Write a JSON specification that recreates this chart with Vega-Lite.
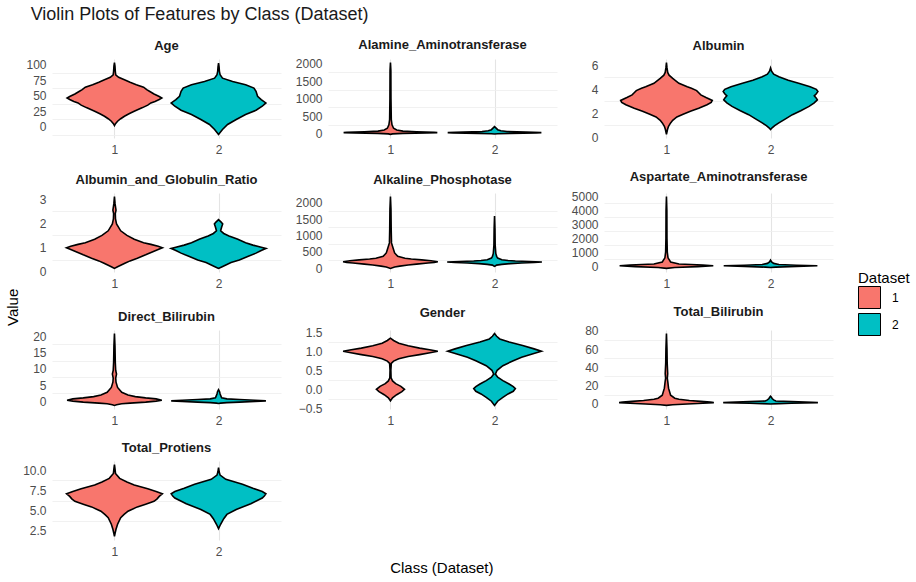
{
"$schema": "https://vega.github.io/schema/vega-lite/v6.json",
"title": {"text": "Violin Plots of Features by Class (Dataset)", "anchor": "start", "fontSize": 18, "fontWeight": "normal", "color": "#1A1A1A", "dx": 25, "offset": 15, "frame": "bounds"},
"datasets": {"violins": [
{"feature":"Age","Dataset":1,"value":103.7,"density":0},{"feature":"Age","Dataset":1,"value":98,"density":0.005},{"feature":"Age","Dataset":1,"value":90,"density":0.008},{"feature":"Age","Dataset":1,"value":84,"density":0.012},{"feature":"Age","Dataset":1,"value":80,"density":0.04},{"feature":"Age","Dataset":1,"value":76,"density":0.096},{"feature":"Age","Dataset":1,"value":72,"density":0.15},{"feature":"Age","Dataset":1,"value":68,"density":0.21},{"feature":"Age","Dataset":1,"value":64,"density":0.28},{"feature":"Age","Dataset":1,"value":60,"density":0.31},{"feature":"Age","Dataset":1,"value":57,"density":0.34},{"feature":"Age","Dataset":1,"value":53,"density":0.38},{"feature":"Age","Dataset":1,"value":49,"density":0.43},{"feature":"Age","Dataset":1,"value":46.5,"density":0.455},{"feature":"Age","Dataset":1,"value":44,"density":0.43},{"feature":"Age","Dataset":1,"value":41,"density":0.39},{"feature":"Age","Dataset":1,"value":38.5,"density":0.35},{"feature":"Age","Dataset":1,"value":35,"density":0.32},{"feature":"Age","Dataset":1,"value":31,"density":0.27},{"feature":"Age","Dataset":1,"value":25,"density":0.19},{"feature":"Age","Dataset":1,"value":21,"density":0.14},{"feature":"Age","Dataset":1,"value":17,"density":0.096},{"feature":"Age","Dataset":1,"value":13,"density":0.06},{"feature":"Age","Dataset":1,"value":9,"density":0.03},{"feature":"Age","Dataset":1,"value":5,"density":0.01},{"feature":"Age","Dataset":1,"value":2,"density":0},
{"feature":"Age","Dataset":2,"value":102.7,"density":0},{"feature":"Age","Dataset":2,"value":97,"density":0.005},{"feature":"Age","Dataset":2,"value":90,"density":0.008},{"feature":"Age","Dataset":2,"value":84,"density":0.015},{"feature":"Age","Dataset":2,"value":78.6,"density":0.038},{"feature":"Age","Dataset":2,"value":73.3,"density":0.135},{"feature":"Age","Dataset":2,"value":67.9,"density":0.26},{"feature":"Age","Dataset":2,"value":62.6,"density":0.34},{"feature":"Age","Dataset":2,"value":57.2,"density":0.36},{"feature":"Age","Dataset":2,"value":49.2,"density":0.375},{"feature":"Age","Dataset":2,"value":43.9,"density":0.41},{"feature":"Age","Dataset":2,"value":38.5,"density":0.455},{"feature":"Age","Dataset":2,"value":33.2,"density":0.42},{"feature":"Age","Dataset":2,"value":26.7,"density":0.36},{"feature":"Age","Dataset":2,"value":19.8,"density":0.26},{"feature":"Age","Dataset":2,"value":11.8,"density":0.17},{"feature":"Age","Dataset":2,"value":3.7,"density":0.087},{"feature":"Age","Dataset":2,"value":-4.3,"density":0.038},{"feature":"Age","Dataset":2,"value":-9.6,"density":0.013},{"feature":"Age","Dataset":2,"value":-12.3,"density":0},
{"feature":"Alamine_Aminotransferase","Dataset":1,"value":2030,"density":0},{"feature":"Alamine_Aminotransferase","Dataset":1,"value":1800,"density":0.004},{"feature":"Alamine_Aminotransferase","Dataset":1,"value":1000,"density":0.005},{"feature":"Alamine_Aminotransferase","Dataset":1,"value":400,"density":0.008},{"feature":"Alamine_Aminotransferase","Dataset":1,"value":250,"density":0.015},{"feature":"Alamine_Aminotransferase","Dataset":1,"value":150,"density":0.03},{"feature":"Alamine_Aminotransferase","Dataset":1,"value":100,"density":0.06},{"feature":"Alamine_Aminotransferase","Dataset":1,"value":70,"density":0.12},{"feature":"Alamine_Aminotransferase","Dataset":1,"value":50,"density":0.25},{"feature":"Alamine_Aminotransferase","Dataset":1,"value":35,"density":0.42},{"feature":"Alamine_Aminotransferase","Dataset":1,"value":25,"density":0.45},{"feature":"Alamine_Aminotransferase","Dataset":1,"value":15,"density":0.35},{"feature":"Alamine_Aminotransferase","Dataset":1,"value":5,"density":0.12},{"feature":"Alamine_Aminotransferase","Dataset":1,"value":-10,"density":0.02},{"feature":"Alamine_Aminotransferase","Dataset":1,"value":-25,"density":0},
{"feature":"Alamine_Aminotransferase","Dataset":2,"value":200,"density":0},{"feature":"Alamine_Aminotransferase","Dataset":2,"value":170,"density":0.01},{"feature":"Alamine_Aminotransferase","Dataset":2,"value":140,"density":0.02},{"feature":"Alamine_Aminotransferase","Dataset":2,"value":110,"density":0.03},{"feature":"Alamine_Aminotransferase","Dataset":2,"value":80,"density":0.06},{"feature":"Alamine_Aminotransferase","Dataset":2,"value":60,"density":0.12},{"feature":"Alamine_Aminotransferase","Dataset":2,"value":40,"density":0.3},{"feature":"Alamine_Aminotransferase","Dataset":2,"value":25,"density":0.45},{"feature":"Alamine_Aminotransferase","Dataset":2,"value":15,"density":0.4},{"feature":"Alamine_Aminotransferase","Dataset":2,"value":5,"density":0.15},{"feature":"Alamine_Aminotransferase","Dataset":2,"value":-5,"density":0.03},{"feature":"Alamine_Aminotransferase","Dataset":2,"value":-15,"density":0},
{"feature":"Albumin","Dataset":1,"value":6.22,"density":0},{"feature":"Albumin","Dataset":1,"value":5.8,"density":0.005},{"feature":"Albumin","Dataset":1,"value":5.4,"density":0.012},{"feature":"Albumin","Dataset":1,"value":5.17,"density":0.025},{"feature":"Albumin","Dataset":1,"value":4.9,"density":0.06},{"feature":"Albumin","Dataset":1,"value":4.49,"density":0.12},{"feature":"Albumin","Dataset":1,"value":4.2,"density":0.2},{"feature":"Albumin","Dataset":1,"value":4.07,"density":0.24},{"feature":"Albumin","Dataset":1,"value":3.88,"density":0.29},{"feature":"Albumin","Dataset":1,"value":3.7,"density":0.31},{"feature":"Albumin","Dataset":1,"value":3.52,"density":0.33},{"feature":"Albumin","Dataset":1,"value":3.3,"density":0.38},{"feature":"Albumin","Dataset":1,"value":3.06,"density":0.44},{"feature":"Albumin","Dataset":1,"value":2.9,"density":0.43},{"feature":"Albumin","Dataset":1,"value":2.7,"density":0.39},{"feature":"Albumin","Dataset":1,"value":2.4,"density":0.31},{"feature":"Albumin","Dataset":1,"value":2.15,"density":0.23},{"feature":"Albumin","Dataset":1,"value":1.9,"density":0.16},{"feature":"Albumin","Dataset":1,"value":1.68,"density":0.1},{"feature":"Albumin","Dataset":1,"value":1.4,"density":0.06},{"feature":"Albumin","Dataset":1,"value":1.18,"density":0.04},{"feature":"Albumin","Dataset":1,"value":0.9,"density":0.02},{"feature":"Albumin","Dataset":1,"value":0.63,"density":0.01},{"feature":"Albumin","Dataset":1,"value":0.22,"density":0},
{"feature":"Albumin","Dataset":2,"value":5.78,"density":0},{"feature":"Albumin","Dataset":2,"value":5.5,"density":0.01},{"feature":"Albumin","Dataset":2,"value":5.25,"density":0.03},{"feature":"Albumin","Dataset":2,"value":5.04,"density":0.08},{"feature":"Albumin","Dataset":2,"value":4.75,"density":0.17},{"feature":"Albumin","Dataset":2,"value":4.49,"density":0.27},{"feature":"Albumin","Dataset":2,"value":4.2,"density":0.38},{"feature":"Albumin","Dataset":2,"value":3.99,"density":0.44},{"feature":"Albumin","Dataset":2,"value":3.8,"density":0.455},{"feature":"Albumin","Dataset":2,"value":3.62,"density":0.44},{"feature":"Albumin","Dataset":2,"value":3.44,"density":0.42},{"feature":"Albumin","Dataset":2,"value":3.25,"density":0.44},{"feature":"Albumin","Dataset":2,"value":3.11,"density":0.45},{"feature":"Albumin","Dataset":2,"value":2.85,"density":0.42},{"feature":"Albumin","Dataset":2,"value":2.56,"density":0.37},{"feature":"Albumin","Dataset":2,"value":2.2,"density":0.29},{"feature":"Albumin","Dataset":2,"value":1.87,"density":0.21},{"feature":"Albumin","Dataset":2,"value":1.5,"density":0.14},{"feature":"Albumin","Dataset":2,"value":1.18,"density":0.08},{"feature":"Albumin","Dataset":2,"value":0.95,"density":0.04},{"feature":"Albumin","Dataset":2,"value":0.77,"density":0.015},{"feature":"Albumin","Dataset":2,"value":0.63,"density":0},
{"feature":"Albumin_and_Globulin_Ratio","Dataset":1,"value":3.1,"density":0},{"feature":"Albumin_and_Globulin_Ratio","Dataset":1,"value":2.8,"density":0.006},{"feature":"Albumin_and_Globulin_Ratio","Dataset":1,"value":2.54,"density":0.015},{"feature":"Albumin_and_Globulin_Ratio","Dataset":1,"value":2.4,"density":0.008},{"feature":"Albumin_and_Globulin_Ratio","Dataset":1,"value":2.18,"density":0.01},{"feature":"Albumin_and_Globulin_Ratio","Dataset":1,"value":1.97,"density":0.02},{"feature":"Albumin_and_Globulin_Ratio","Dataset":1,"value":1.69,"density":0.06},{"feature":"Albumin_and_Globulin_Ratio","Dataset":1,"value":1.5,"density":0.12},{"feature":"Albumin_and_Globulin_Ratio","Dataset":1,"value":1.34,"density":0.19},{"feature":"Albumin_and_Globulin_Ratio","Dataset":1,"value":1.2,"density":0.28},{"feature":"Albumin_and_Globulin_Ratio","Dataset":1,"value":1.13,"density":0.35},{"feature":"Albumin_and_Globulin_Ratio","Dataset":1,"value":1.05,"density":0.42},{"feature":"Albumin_and_Globulin_Ratio","Dataset":1,"value":0.99,"density":0.46},{"feature":"Albumin_and_Globulin_Ratio","Dataset":1,"value":0.92,"density":0.42},{"feature":"Albumin_and_Globulin_Ratio","Dataset":1,"value":0.85,"density":0.38},{"feature":"Albumin_and_Globulin_Ratio","Dataset":1,"value":0.7,"density":0.3},{"feature":"Albumin_and_Globulin_Ratio","Dataset":1,"value":0.56,"density":0.22},{"feature":"Albumin_and_Globulin_Ratio","Dataset":1,"value":0.45,"density":0.15},{"feature":"Albumin_and_Globulin_Ratio","Dataset":1,"value":0.35,"density":0.1},{"feature":"Albumin_and_Globulin_Ratio","Dataset":1,"value":0.21,"density":0.03},{"feature":"Albumin_and_Globulin_Ratio","Dataset":1,"value":0.14,"density":0},
{"feature":"Albumin_and_Globulin_Ratio","Dataset":2,"value":2.15,"density":0},{"feature":"Albumin_and_Globulin_Ratio","Dataset":2,"value":2.05,"density":0.025},{"feature":"Albumin_and_Globulin_Ratio","Dataset":2,"value":1.97,"density":0.04},{"feature":"Albumin_and_Globulin_Ratio","Dataset":2,"value":1.85,"density":0.03},{"feature":"Albumin_and_Globulin_Ratio","Dataset":2,"value":1.69,"density":0.02},{"feature":"Albumin_and_Globulin_Ratio","Dataset":2,"value":1.58,"density":0.05},{"feature":"Albumin_and_Globulin_Ratio","Dataset":2,"value":1.48,"density":0.1},{"feature":"Albumin_and_Globulin_Ratio","Dataset":2,"value":1.35,"density":0.18},{"feature":"Albumin_and_Globulin_Ratio","Dataset":2,"value":1.2,"density":0.26},{"feature":"Albumin_and_Globulin_Ratio","Dataset":2,"value":1.1,"density":0.33},{"feature":"Albumin_and_Globulin_Ratio","Dataset":2,"value":1.01,"density":0.41},{"feature":"Albumin_and_Globulin_Ratio","Dataset":2,"value":0.96,"density":0.455},{"feature":"Albumin_and_Globulin_Ratio","Dataset":2,"value":0.88,"density":0.41},{"feature":"Albumin_and_Globulin_Ratio","Dataset":2,"value":0.77,"density":0.36},{"feature":"Albumin_and_Globulin_Ratio","Dataset":2,"value":0.63,"density":0.28},{"feature":"Albumin_and_Globulin_Ratio","Dataset":2,"value":0.49,"density":0.2},{"feature":"Albumin_and_Globulin_Ratio","Dataset":2,"value":0.38,"density":0.12},{"feature":"Albumin_and_Globulin_Ratio","Dataset":2,"value":0.28,"density":0.07},{"feature":"Albumin_and_Globulin_Ratio","Dataset":2,"value":0.2,"density":0.03},{"feature":"Albumin_and_Globulin_Ratio","Dataset":2,"value":0.14,"density":0},
{"feature":"Alkaline_Phosphotase","Dataset":1,"value":2185,"density":0},{"feature":"Alkaline_Phosphotase","Dataset":1,"value":1800,"density":0.005},{"feature":"Alkaline_Phosphotase","Dataset":1,"value":1200,"density":0.007},{"feature":"Alkaline_Phosphotase","Dataset":1,"value":770,"density":0.01},{"feature":"Alkaline_Phosphotase","Dataset":1,"value":616,"density":0.025},{"feature":"Alkaline_Phosphotase","Dataset":1,"value":462,"density":0.04},{"feature":"Alkaline_Phosphotase","Dataset":1,"value":359,"density":0.07},{"feature":"Alkaline_Phosphotase","Dataset":1,"value":300,"density":0.14},{"feature":"Alkaline_Phosphotase","Dataset":1,"value":277,"density":0.2},{"feature":"Alkaline_Phosphotase","Dataset":1,"value":250,"density":0.3},{"feature":"Alkaline_Phosphotase","Dataset":1,"value":226,"density":0.39},{"feature":"Alkaline_Phosphotase","Dataset":1,"value":195,"density":0.455},{"feature":"Alkaline_Phosphotase","Dataset":1,"value":170,"density":0.42},{"feature":"Alkaline_Phosphotase","Dataset":1,"value":154,"density":0.36},{"feature":"Alkaline_Phosphotase","Dataset":1,"value":120,"density":0.25},{"feature":"Alkaline_Phosphotase","Dataset":1,"value":92,"density":0.17},{"feature":"Alkaline_Phosphotase","Dataset":1,"value":60,"density":0.09},{"feature":"Alkaline_Phosphotase","Dataset":1,"value":31,"density":0.04},{"feature":"Alkaline_Phosphotase","Dataset":1,"value":-10,"density":0},
{"feature":"Alkaline_Phosphotase","Dataset":2,"value":1590,"density":0},{"feature":"Alkaline_Phosphotase","Dataset":2,"value":1200,"density":0.004},{"feature":"Alkaline_Phosphotase","Dataset":2,"value":700,"density":0.006},{"feature":"Alkaline_Phosphotase","Dataset":2,"value":450,"density":0.012},{"feature":"Alkaline_Phosphotase","Dataset":2,"value":359,"density":0.02},{"feature":"Alkaline_Phosphotase","Dataset":2,"value":308,"density":0.03},{"feature":"Alkaline_Phosphotase","Dataset":2,"value":256,"density":0.07},{"feature":"Alkaline_Phosphotase","Dataset":2,"value":230,"density":0.13},{"feature":"Alkaline_Phosphotase","Dataset":2,"value":215,"density":0.2},{"feature":"Alkaline_Phosphotase","Dataset":2,"value":200,"density":0.33},{"feature":"Alkaline_Phosphotase","Dataset":2,"value":185,"density":0.455},{"feature":"Alkaline_Phosphotase","Dataset":2,"value":170,"density":0.38},{"feature":"Alkaline_Phosphotase","Dataset":2,"value":154,"density":0.26},{"feature":"Alkaline_Phosphotase","Dataset":2,"value":135,"density":0.15},{"feature":"Alkaline_Phosphotase","Dataset":2,"value":113,"density":0.07},{"feature":"Alkaline_Phosphotase","Dataset":2,"value":90,"density":0.02},{"feature":"Alkaline_Phosphotase","Dataset":2,"value":72,"density":0.01},{"feature":"Alkaline_Phosphotase","Dataset":2,"value":51,"density":0},
{"feature":"Aspartate_Aminotransferase","Dataset":1,"value":4990,"density":0},{"feature":"Aspartate_Aminotransferase","Dataset":1,"value":4000,"density":0.004},{"feature":"Aspartate_Aminotransferase","Dataset":1,"value":2000,"density":0.005},{"feature":"Aspartate_Aminotransferase","Dataset":1,"value":1000,"density":0.008},{"feature":"Aspartate_Aminotransferase","Dataset":1,"value":600,"density":0.015},{"feature":"Aspartate_Aminotransferase","Dataset":1,"value":300,"density":0.04},{"feature":"Aspartate_Aminotransferase","Dataset":1,"value":150,"density":0.12},{"feature":"Aspartate_Aminotransferase","Dataset":1,"value":80,"density":0.35},{"feature":"Aspartate_Aminotransferase","Dataset":1,"value":30,"density":0.45},{"feature":"Aspartate_Aminotransferase","Dataset":1,"value":-30,"density":0.3},{"feature":"Aspartate_Aminotransferase","Dataset":1,"value":-100,"density":0.08},{"feature":"Aspartate_Aminotransferase","Dataset":1,"value":-160,"density":0},
{"feature":"Aspartate_Aminotransferase","Dataset":2,"value":430,"density":0},{"feature":"Aspartate_Aminotransferase","Dataset":2,"value":300,"density":0.01},{"feature":"Aspartate_Aminotransferase","Dataset":2,"value":200,"density":0.03},{"feature":"Aspartate_Aminotransferase","Dataset":2,"value":120,"density":0.08},{"feature":"Aspartate_Aminotransferase","Dataset":2,"value":70,"density":0.25},{"feature":"Aspartate_Aminotransferase","Dataset":2,"value":30,"density":0.45},{"feature":"Aspartate_Aminotransferase","Dataset":2,"value":-20,"density":0.25},{"feature":"Aspartate_Aminotransferase","Dataset":2,"value":-70,"density":0.05},{"feature":"Aspartate_Aminotransferase","Dataset":2,"value":-100,"density":0},
{"feature":"Direct_Bilirubin","Dataset":1,"value":20.8,"density":0},{"feature":"Direct_Bilirubin","Dataset":1,"value":17,"density":0.005},{"feature":"Direct_Bilirubin","Dataset":1,"value":12,"density":0.008},{"feature":"Direct_Bilirubin","Dataset":1,"value":9.5,"density":0.012},{"feature":"Direct_Bilirubin","Dataset":1,"value":8.4,"density":0.02},{"feature":"Direct_Bilirubin","Dataset":1,"value":7.2,"density":0.012},{"feature":"Direct_Bilirubin","Dataset":1,"value":5.9,"density":0.015},{"feature":"Direct_Bilirubin","Dataset":1,"value":4.3,"density":0.03},{"feature":"Direct_Bilirubin","Dataset":1,"value":2.8,"density":0.07},{"feature":"Direct_Bilirubin","Dataset":1,"value":2,"density":0.13},{"feature":"Direct_Bilirubin","Dataset":1,"value":1.5,"density":0.2},{"feature":"Direct_Bilirubin","Dataset":1,"value":1.1,"density":0.3},{"feature":"Direct_Bilirubin","Dataset":1,"value":0.8,"density":0.4},{"feature":"Direct_Bilirubin","Dataset":1,"value":0.4,"density":0.455},{"feature":"Direct_Bilirubin","Dataset":1,"value":0.1,"density":0.4},{"feature":"Direct_Bilirubin","Dataset":1,"value":-0.2,"density":0.3},{"feature":"Direct_Bilirubin","Dataset":1,"value":-0.5,"density":0.15},{"feature":"Direct_Bilirubin","Dataset":1,"value":-0.7,"density":0.07},{"feature":"Direct_Bilirubin","Dataset":1,"value":-1,"density":0.02},{"feature":"Direct_Bilirubin","Dataset":1,"value":-1.2,"density":0},
{"feature":"Direct_Bilirubin","Dataset":2,"value":3.6,"density":0},{"feature":"Direct_Bilirubin","Dataset":2,"value":3,"density":0.01},{"feature":"Direct_Bilirubin","Dataset":2,"value":2.3,"density":0.015},{"feature":"Direct_Bilirubin","Dataset":2,"value":1.5,"density":0.025},{"feature":"Direct_Bilirubin","Dataset":2,"value":1.1,"density":0.03},{"feature":"Direct_Bilirubin","Dataset":2,"value":0.8,"density":0.08},{"feature":"Direct_Bilirubin","Dataset":2,"value":0.6,"density":0.2},{"feature":"Direct_Bilirubin","Dataset":2,"value":0.4,"density":0.35},{"feature":"Direct_Bilirubin","Dataset":2,"value":0.2,"density":0.455},{"feature":"Direct_Bilirubin","Dataset":2,"value":0,"density":0.35},{"feature":"Direct_Bilirubin","Dataset":2,"value":-0.2,"density":0.2},{"feature":"Direct_Bilirubin","Dataset":2,"value":-0.35,"density":0.08},{"feature":"Direct_Bilirubin","Dataset":2,"value":-0.5,"density":0.02},{"feature":"Direct_Bilirubin","Dataset":2,"value":-0.6,"density":0},
{"feature":"Gender","Dataset":1,"value":1.34,"density":0},{"feature":"Gender","Dataset":1,"value":1.28,"density":0.03},{"feature":"Gender","Dataset":1,"value":1.21,"density":0.08},{"feature":"Gender","Dataset":1,"value":1.14,"density":0.17},{"feature":"Gender","Dataset":1,"value":1.08,"density":0.28},{"feature":"Gender","Dataset":1,"value":1.03,"density":0.39},{"feature":"Gender","Dataset":1,"value":1,"density":0.455},{"feature":"Gender","Dataset":1,"value":0.96,"density":0.38},{"feature":"Gender","Dataset":1,"value":0.91,"density":0.28},{"feature":"Gender","Dataset":1,"value":0.86,"density":0.17},{"feature":"Gender","Dataset":1,"value":0.8,"density":0.08},{"feature":"Gender","Dataset":1,"value":0.74,"density":0.03},{"feature":"Gender","Dataset":1,"value":0.68,"density":0.008},{"feature":"Gender","Dataset":1,"value":0.5,"density":0.004},{"feature":"Gender","Dataset":1,"value":0.3,"density":0.006},{"feature":"Gender","Dataset":1,"value":0.22,"density":0.02},{"feature":"Gender","Dataset":1,"value":0.15,"density":0.05},{"feature":"Gender","Dataset":1,"value":0.08,"density":0.1},{"feature":"Gender","Dataset":1,"value":0,"density":0.135},{"feature":"Gender","Dataset":1,"value":-0.06,"density":0.11},{"feature":"Gender","Dataset":1,"value":-0.14,"density":0.06},{"feature":"Gender","Dataset":1,"value":-0.22,"density":0.02},{"feature":"Gender","Dataset":1,"value":-0.3,"density":0},
{"feature":"Gender","Dataset":2,"value":1.46,"density":0},{"feature":"Gender","Dataset":2,"value":1.39,"density":0.02},{"feature":"Gender","Dataset":2,"value":1.32,"density":0.05},{"feature":"Gender","Dataset":2,"value":1.24,"density":0.14},{"feature":"Gender","Dataset":2,"value":1.15,"density":0.27},{"feature":"Gender","Dataset":2,"value":1.06,"density":0.38},{"feature":"Gender","Dataset":2,"value":1,"density":0.45},{"feature":"Gender","Dataset":2,"value":0.93,"density":0.37},{"feature":"Gender","Dataset":2,"value":0.84,"density":0.26},{"feature":"Gender","Dataset":2,"value":0.75,"density":0.18},{"feature":"Gender","Dataset":2,"value":0.62,"density":0.08},{"feature":"Gender","Dataset":2,"value":0.5,"density":0.025},{"feature":"Gender","Dataset":2,"value":0.4,"density":0.008},{"feature":"Gender","Dataset":2,"value":0.32,"density":0.03},{"feature":"Gender","Dataset":2,"value":0.23,"density":0.08},{"feature":"Gender","Dataset":2,"value":0.14,"density":0.14},{"feature":"Gender","Dataset":2,"value":0.07,"density":0.18},{"feature":"Gender","Dataset":2,"value":0.02,"density":0.2},{"feature":"Gender","Dataset":2,"value":-0.05,"density":0.18},{"feature":"Gender","Dataset":2,"value":-0.12,"density":0.13},{"feature":"Gender","Dataset":2,"value":-0.21,"density":0.08},{"feature":"Gender","Dataset":2,"value":-0.31,"density":0.03},{"feature":"Gender","Dataset":2,"value":-0.42,"density":0},
{"feature":"Total_Bilirubin","Dataset":1,"value":77,"density":0},{"feature":"Total_Bilirubin","Dataset":1,"value":60,"density":0.005},{"feature":"Total_Bilirubin","Dataset":1,"value":45,"density":0.007},{"feature":"Total_Bilirubin","Dataset":1,"value":33,"density":0.012},{"feature":"Total_Bilirubin","Dataset":1,"value":28,"density":0.008},{"feature":"Total_Bilirubin","Dataset":1,"value":24,"density":0.013},{"feature":"Total_Bilirubin","Dataset":1,"value":17,"density":0.02},{"feature":"Total_Bilirubin","Dataset":1,"value":9.3,"density":0.04},{"feature":"Total_Bilirubin","Dataset":1,"value":6,"density":0.08},{"feature":"Total_Bilirubin","Dataset":1,"value":4.8,"density":0.12},{"feature":"Total_Bilirubin","Dataset":1,"value":3.5,"density":0.22},{"feature":"Total_Bilirubin","Dataset":1,"value":2.5,"density":0.33},{"feature":"Total_Bilirubin","Dataset":1,"value":1.9,"density":0.42},{"feature":"Total_Bilirubin","Dataset":1,"value":1.1,"density":0.455},{"feature":"Total_Bilirubin","Dataset":1,"value":0.4,"density":0.35},{"feature":"Total_Bilirubin","Dataset":1,"value":-0.4,"density":0.2},{"feature":"Total_Bilirubin","Dataset":1,"value":-1.2,"density":0.06},{"feature":"Total_Bilirubin","Dataset":1,"value":-1.9,"density":0},
{"feature":"Total_Bilirubin","Dataset":2,"value":8.2,"density":0},{"feature":"Total_Bilirubin","Dataset":2,"value":6.8,"density":0.01},{"feature":"Total_Bilirubin","Dataset":2,"value":5.6,"density":0.015},{"feature":"Total_Bilirubin","Dataset":2,"value":4.2,"density":0.03},{"feature":"Total_Bilirubin","Dataset":2,"value":3,"density":0.05},{"feature":"Total_Bilirubin","Dataset":2,"value":2.2,"density":0.2},{"feature":"Total_Bilirubin","Dataset":2,"value":1.5,"density":0.4},{"feature":"Total_Bilirubin","Dataset":2,"value":1.1,"density":0.455},{"feature":"Total_Bilirubin","Dataset":2,"value":0.4,"density":0.2},{"feature":"Total_Bilirubin","Dataset":2,"value":0,"density":0.08},{"feature":"Total_Bilirubin","Dataset":2,"value":-0.4,"density":0},
{"feature":"Total_Protiens","Dataset":1,"value":10.69,"density":0},{"feature":"Total_Protiens","Dataset":1,"value":10.2,"density":0.005},{"feature":"Total_Protiens","Dataset":1,"value":9.6,"density":0.01},{"feature":"Total_Protiens","Dataset":1,"value":8.99,"density":0.05},{"feature":"Total_Protiens","Dataset":1,"value":8.55,"density":0.12},{"feature":"Total_Protiens","Dataset":1,"value":8.18,"density":0.19},{"feature":"Total_Protiens","Dataset":1,"value":7.69,"density":0.32},{"feature":"Total_Protiens","Dataset":1,"value":7.36,"density":0.4},{"feature":"Total_Protiens","Dataset":1,"value":7.08,"density":0.46},{"feature":"Total_Protiens","Dataset":1,"value":6.76,"density":0.43},{"feature":"Total_Protiens","Dataset":1,"value":6.45,"density":0.41},{"feature":"Total_Protiens","Dataset":1,"value":6.15,"density":0.38},{"feature":"Total_Protiens","Dataset":1,"value":5.8,"density":0.3},{"feature":"Total_Protiens","Dataset":1,"value":5.46,"density":0.22},{"feature":"Total_Protiens","Dataset":1,"value":4.93,"density":0.13},{"feature":"Total_Protiens","Dataset":1,"value":4.5,"density":0.09},{"feature":"Total_Protiens","Dataset":1,"value":4.12,"density":0.06},{"feature":"Total_Protiens","Dataset":1,"value":3.31,"density":0.03},{"feature":"Total_Protiens","Dataset":1,"value":2.7,"density":0.015},{"feature":"Total_Protiens","Dataset":1,"value":2.2,"density":0.006},{"feature":"Total_Protiens","Dataset":1,"value":1.81,"density":0},
{"feature":"Total_Protiens","Dataset":2,"value":10.32,"density":0},{"feature":"Total_Protiens","Dataset":2,"value":9.8,"density":0.006},{"feature":"Total_Protiens","Dataset":2,"value":9.39,"density":0.015},{"feature":"Total_Protiens","Dataset":2,"value":8.87,"density":0.07},{"feature":"Total_Protiens","Dataset":2,"value":8.26,"density":0.23},{"feature":"Total_Protiens","Dataset":2,"value":7.77,"density":0.33},{"feature":"Total_Protiens","Dataset":2,"value":7.36,"density":0.42},{"feature":"Total_Protiens","Dataset":2,"value":7.08,"density":0.455},{"feature":"Total_Protiens","Dataset":2,"value":6.8,"density":0.44},{"feature":"Total_Protiens","Dataset":2,"value":6.55,"density":0.42},{"feature":"Total_Protiens","Dataset":2,"value":5.86,"density":0.31},{"feature":"Total_Protiens","Dataset":2,"value":5.14,"density":0.17},{"feature":"Total_Protiens","Dataset":2,"value":4.53,"density":0.08},{"feature":"Total_Protiens","Dataset":2,"value":4,"density":0.05},{"feature":"Total_Protiens","Dataset":2,"value":3.31,"density":0.02},{"feature":"Total_Protiens","Dataset":2,"value":2.78,"density":0}
]},
"data": {"name": "violins"},
"transform": [
  {"calculate": "datum.Dataset - datum.density", "as": "left"},
  {"calculate": "datum.Dataset + datum.density", "as": "right"}
],
"vconcat": [{
  "title": {"text": "Value", "orient": "left", "fontSize": 15, "fontWeight": "normal", "color": "#000000", "anchor": "middle", "frame": "bounds", "offset": 2},
  "vconcat": [{
    "title": {"text": "Class (Dataset)", "orient": "bottom", "fontSize": 15, "fontWeight": "normal", "color": "#000000", "anchor": "middle", "frame": "bounds", "offset": 4, "dx": 14},
    "columns": 3,
    "align": "each",
    "spacing": {"row": 16, "column": 14},
    "concat": [
      {"title": {"text": "Age"}, "width": 229, "height": 79,
       "transform": [{"filter": {"field": "feature", "equal": "Age"}}],
       "layer": [
         {"mark": {"type": "rule", "opacity": 0}, "encoding": {"y": {"field": "value", "type": "quantitative", "axis": {"orient": "left", "values": [-12.5, 12.5, 37.5, 62.5, 87.5], "labels": false, "grid": true, "gridColor": "#EEEEEE", "gridWidth": 0.8, "title": null}}}},
         {"mark": {"type": "area", "orient": "horizontal", "stroke": "#000000", "strokeWidth": 1.6, "fillOpacity": 1},
          "encoding": {
            "y": {"field": "value", "type": "quantitative", "scale": {"zero": false, "nice": false, "padding": 3.6}, "axis": {"orient": "left", "values": [0, 25, 50, 75, 100], "format": "d", "title": null}},
            "x": {"field": "left", "type": "quantitative", "stack": null, "scale": {"domain": [0.4, 2.6], "nice": false, "zero": false}, "axis": {"values": [1, 2], "format": "d", "title": null}},
            "x2": {"field": "right"},
            "color": {"field": "Dataset", "type": "nominal", "scale": {"domain": [1, 2], "range": ["#F8766D", "#00BFC4"]}}}}
       ],
       "resolve": {"axis": {"y": "independent"}}},
      {"title": {"text": "Alamine_Aminotransferase"}, "width": 229, "height": 79,
       "transform": [{"filter": {"field": "feature", "equal": "Alamine_Aminotransferase"}}],
       "layer": [
         {"mark": {"type": "rule", "opacity": 0}, "encoding": {"y": {"field": "value", "type": "quantitative", "axis": {"orient": "left", "values": [250, 750, 1250, 1750], "labels": false, "grid": true, "gridColor": "#EEEEEE", "gridWidth": 0.8, "title": null}}}},
         {"mark": {"type": "area", "orient": "horizontal", "stroke": "#000000", "strokeWidth": 1.6, "fillOpacity": 1},
          "encoding": {
            "y": {"field": "value", "type": "quantitative", "scale": {"zero": false, "nice": false, "padding": 3.6}, "axis": {"orient": "left", "values": [0, 500, 1000, 1500, 2000], "format": "d", "title": null}},
            "x": {"field": "left", "type": "quantitative", "stack": null, "scale": {"domain": [0.4, 2.6], "nice": false, "zero": false}, "axis": {"values": [1, 2], "format": "d", "title": null}},
            "x2": {"field": "right"},
            "color": {"field": "Dataset", "type": "nominal", "scale": {"domain": [1, 2], "range": ["#F8766D", "#00BFC4"]}}}}
       ],
       "resolve": {"axis": {"y": "independent"}}},
      {"title": {"text": "Albumin"}, "width": 229, "height": 79,
       "transform": [{"filter": {"field": "feature", "equal": "Albumin"}}],
       "layer": [
         {"mark": {"type": "rule", "opacity": 0}, "encoding": {"y": {"field": "value", "type": "quantitative", "axis": {"orient": "left", "values": [1, 3, 5], "labels": false, "grid": true, "gridColor": "#EEEEEE", "gridWidth": 0.8, "title": null}}}},
         {"mark": {"type": "area", "orient": "horizontal", "stroke": "#000000", "strokeWidth": 1.6, "fillOpacity": 1},
          "encoding": {
            "y": {"field": "value", "type": "quantitative", "scale": {"zero": false, "nice": false, "padding": 3.6}, "axis": {"orient": "left", "values": [0, 2, 4, 6], "format": "d", "title": null}},
            "x": {"field": "left", "type": "quantitative", "stack": null, "scale": {"domain": [0.4, 2.6], "nice": false, "zero": false}, "axis": {"values": [1, 2], "format": "d", "title": null}},
            "x2": {"field": "right"},
            "color": {"field": "Dataset", "type": "nominal", "scale": {"domain": [1, 2], "range": ["#F8766D", "#00BFC4"]}}}}
       ],
       "resolve": {"axis": {"y": "independent"}}},
      {"title": {"text": "Albumin_and_Globulin_Ratio"}, "width": 229, "height": 79,
       "transform": [{"filter": {"field": "feature", "equal": "Albumin_and_Globulin_Ratio"}}],
       "layer": [
         {"mark": {"type": "rule", "opacity": 0}, "encoding": {"y": {"field": "value", "type": "quantitative", "axis": {"orient": "left", "values": [0.5, 1.5, 2.5], "labels": false, "grid": true, "gridColor": "#EEEEEE", "gridWidth": 0.8, "title": null}}}},
         {"mark": {"type": "area", "orient": "horizontal", "stroke": "#000000", "strokeWidth": 1.6, "fillOpacity": 1},
          "encoding": {
            "y": {"field": "value", "type": "quantitative", "scale": {"zero": false, "nice": false, "padding": 3.6}, "axis": {"orient": "left", "values": [0, 1, 2, 3], "format": "d", "title": null}},
            "x": {"field": "left", "type": "quantitative", "stack": null, "scale": {"domain": [0.4, 2.6], "nice": false, "zero": false}, "axis": {"values": [1, 2], "format": "d", "title": null}},
            "x2": {"field": "right"},
            "color": {"field": "Dataset", "type": "nominal", "scale": {"domain": [1, 2], "range": ["#F8766D", "#00BFC4"]}}}}
       ],
       "resolve": {"axis": {"y": "independent"}}},
      {"title": {"text": "Alkaline_Phosphotase"}, "width": 229, "height": 79,
       "transform": [{"filter": {"field": "feature", "equal": "Alkaline_Phosphotase"}}],
       "layer": [
         {"mark": {"type": "rule", "opacity": 0}, "encoding": {"y": {"field": "value", "type": "quantitative", "axis": {"orient": "left", "values": [250, 750, 1250, 1750], "labels": false, "grid": true, "gridColor": "#EEEEEE", "gridWidth": 0.8, "title": null}}}},
         {"mark": {"type": "area", "orient": "horizontal", "stroke": "#000000", "strokeWidth": 1.6, "fillOpacity": 1},
          "encoding": {
            "y": {"field": "value", "type": "quantitative", "scale": {"zero": false, "nice": false, "padding": 3.6}, "axis": {"orient": "left", "values": [0, 500, 1000, 1500, 2000], "format": "d", "title": null}},
            "x": {"field": "left", "type": "quantitative", "stack": null, "scale": {"domain": [0.4, 2.6], "nice": false, "zero": false}, "axis": {"values": [1, 2], "format": "d", "title": null}},
            "x2": {"field": "right"},
            "color": {"field": "Dataset", "type": "nominal", "scale": {"domain": [1, 2], "range": ["#F8766D", "#00BFC4"]}}}}
       ],
       "resolve": {"axis": {"y": "independent"}}},
      {"title": {"text": "Aspartate_Aminotransferase"}, "width": 229, "height": 79,
       "transform": [{"filter": {"field": "feature", "equal": "Aspartate_Aminotransferase"}}],
       "layer": [
         {"mark": {"type": "rule", "opacity": 0}, "encoding": {"y": {"field": "value", "type": "quantitative", "axis": {"orient": "left", "values": [500, 1500, 2500, 3500, 4500], "labels": false, "grid": true, "gridColor": "#EEEEEE", "gridWidth": 0.8, "title": null}}}},
         {"mark": {"type": "area", "orient": "horizontal", "stroke": "#000000", "strokeWidth": 1.6, "fillOpacity": 1},
          "encoding": {
            "y": {"field": "value", "type": "quantitative", "scale": {"zero": false, "nice": false, "padding": 3.6}, "axis": {"orient": "left", "values": [0, 1000, 2000, 3000, 4000, 5000], "format": "d", "title": null}},
            "x": {"field": "left", "type": "quantitative", "stack": null, "scale": {"domain": [0.4, 2.6], "nice": false, "zero": false}, "axis": {"values": [1, 2], "format": "d", "title": null}},
            "x2": {"field": "right"},
            "color": {"field": "Dataset", "type": "nominal", "scale": {"domain": [1, 2], "range": ["#F8766D", "#00BFC4"]}}}}
       ],
       "resolve": {"axis": {"y": "independent"}}},
      {"title": {"text": "Direct_Bilirubin"}, "width": 229, "height": 79,
       "transform": [{"filter": {"field": "feature", "equal": "Direct_Bilirubin"}}],
       "layer": [
         {"mark": {"type": "rule", "opacity": 0}, "encoding": {"y": {"field": "value", "type": "quantitative", "axis": {"orient": "left", "values": [2.5, 7.5, 12.5, 17.5], "labels": false, "grid": true, "gridColor": "#EEEEEE", "gridWidth": 0.8, "title": null}}}},
         {"mark": {"type": "area", "orient": "horizontal", "stroke": "#000000", "strokeWidth": 1.6, "fillOpacity": 1},
          "encoding": {
            "y": {"field": "value", "type": "quantitative", "scale": {"zero": false, "nice": false, "padding": 3.6}, "axis": {"orient": "left", "values": [0, 5, 10, 15, 20], "format": "d", "title": null}},
            "x": {"field": "left", "type": "quantitative", "stack": null, "scale": {"domain": [0.4, 2.6], "nice": false, "zero": false}, "axis": {"values": [1, 2], "format": "d", "title": null}},
            "x2": {"field": "right"},
            "color": {"field": "Dataset", "type": "nominal", "scale": {"domain": [1, 2], "range": ["#F8766D", "#00BFC4"]}}}}
       ],
       "resolve": {"axis": {"y": "independent"}}},
      {"title": {"text": "Gender"}, "width": 229, "height": 79,
       "transform": [{"filter": {"field": "feature", "equal": "Gender"}}],
       "layer": [
         {"mark": {"type": "rule", "opacity": 0}, "encoding": {"y": {"field": "value", "type": "quantitative", "axis": {"orient": "left", "values": [-0.25, 0.25, 0.75, 1.25], "labels": false, "grid": true, "gridColor": "#EEEEEE", "gridWidth": 0.8, "title": null}}}},
         {"mark": {"type": "area", "orient": "horizontal", "stroke": "#000000", "strokeWidth": 1.6, "fillOpacity": 1},
          "encoding": {
            "y": {"field": "value", "type": "quantitative", "scale": {"zero": false, "nice": false, "padding": 3.6}, "axis": {"orient": "left", "values": [-0.5, 0, 0.5, 1, 1.5], "format": ".1f", "title": null}},
            "x": {"field": "left", "type": "quantitative", "stack": null, "scale": {"domain": [0.4, 2.6], "nice": false, "zero": false}, "axis": {"values": [1, 2], "format": "d", "title": null}},
            "x2": {"field": "right"},
            "color": {"field": "Dataset", "type": "nominal", "scale": {"domain": [1, 2], "range": ["#F8766D", "#00BFC4"]}}}}
       ],
       "resolve": {"axis": {"y": "independent"}}},
      {"title": {"text": "Total_Bilirubin"}, "width": 229, "height": 79,
       "transform": [{"filter": {"field": "feature", "equal": "Total_Bilirubin"}}],
       "layer": [
         {"mark": {"type": "rule", "opacity": 0}, "encoding": {"y": {"field": "value", "type": "quantitative", "axis": {"orient": "left", "values": [10, 30, 50, 70], "labels": false, "grid": true, "gridColor": "#EEEEEE", "gridWidth": 0.8, "title": null}}}},
         {"mark": {"type": "area", "orient": "horizontal", "stroke": "#000000", "strokeWidth": 1.6, "fillOpacity": 1},
          "encoding": {
            "y": {"field": "value", "type": "quantitative", "scale": {"zero": false, "nice": false, "padding": 3.6}, "axis": {"orient": "left", "values": [0, 20, 40, 60, 80], "format": "d", "title": null}},
            "x": {"field": "left", "type": "quantitative", "stack": null, "scale": {"domain": [0.4, 2.6], "nice": false, "zero": false}, "axis": {"values": [1, 2], "format": "d", "title": null}},
            "x2": {"field": "right"},
            "color": {"field": "Dataset", "type": "nominal", "scale": {"domain": [1, 2], "range": ["#F8766D", "#00BFC4"]}}}}
       ],
       "resolve": {"axis": {"y": "independent"}}},
      {"title": {"text": "Total_Protiens"}, "width": 229, "height": 79,
       "transform": [{"filter": {"field": "feature", "equal": "Total_Protiens"}}],
       "layer": [
         {"mark": {"type": "rule", "opacity": 0}, "encoding": {"y": {"field": "value", "type": "quantitative", "axis": {"orient": "left", "values": [3.75, 6.25, 8.75], "labels": false, "grid": true, "gridColor": "#EEEEEE", "gridWidth": 0.8, "title": null}}}},
         {"mark": {"type": "area", "orient": "horizontal", "stroke": "#000000", "strokeWidth": 1.6, "fillOpacity": 1},
          "encoding": {
            "y": {"field": "value", "type": "quantitative", "scale": {"zero": false, "nice": false, "padding": 3.6}, "axis": {"orient": "left", "values": [2.5, 5, 7.5, 10], "format": ".1f", "title": null}},
            "x": {"field": "left", "type": "quantitative", "stack": null, "scale": {"domain": [0.4, 2.6], "nice": false, "zero": false}, "axis": {"values": [1, 2], "format": "d", "title": null}},
            "x2": {"field": "right"},
            "color": {"field": "Dataset", "type": "nominal", "scale": {"domain": [1, 2], "range": ["#F8766D", "#00BFC4"]}}}}
       ],
       "resolve": {"axis": {"y": "independent"}}}
    ]
  }]
}],
"config": {
  "view": {"stroke": null},
  "font": "Liberation Sans",
  "axis": {"domain": false, "ticks": false, "tickSize": 0, "labelFontSize": 12, "labelColor": "#4D4D4D", "gridColor": "#E4E4E4", "gridWidth": 1.1, "labelPadding": 6},
  "title": {"fontSize": 13, "fontWeight": "bold", "color": "#1A1A1A", "anchor": "middle", "frame": "group", "offset": 6},
  "legend": {"orient": "none", "legendX": 806, "legendY": 212, "titleFontSize": 15, "titleFontWeight": "normal", "titleColor": "#000000", "labelFontSize": 12, "labelColor": "#000000", "symbolType": "square", "symbolSize": 484, "symbolStrokeColor": "#000000", "symbolStrokeWidth": 1, "symbolOpacity": 1, "rowPadding": 0, "titlePadding": 0, "labelOffset": 11}
}
}
